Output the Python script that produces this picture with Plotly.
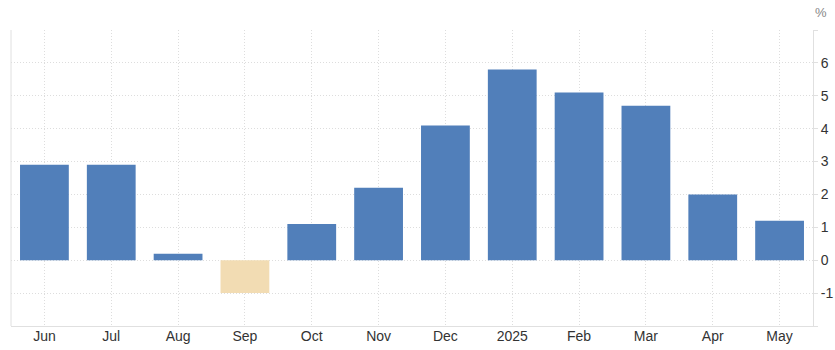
import plotly.graph_objects as go

categories = ["Jun", "Jul", "Aug", "Sep", "Oct", "Nov", "Dec", "2025", "Feb", "Mar", "Apr", "May"]
values = [2.9, 2.9, 0.2, -1.0, 1.1, 2.2, 4.1, 5.8, 5.1, 4.7, 2.0, 1.2]
y_ticks = [-2, -1, 0, 1, 2, 3, 4, 5, 6, 7]
y_labels = ["", "-1", "0", "1", "2", "3", "4", "5", "6", ""]

colors = ["#f2dcb3" if v < 0 else "#517fba" for v in values]

fig = go.Figure(go.Bar(x=categories, y=values, marker=dict(color=colors, line=dict(width=0)), width=0.73))

fig.update_layout(
    width=835, height=350,
    margin=dict(l=11, r=22, t=30, b=24, autoexpand=False),
    paper_bgcolor="white", plot_bgcolor="white",
    showlegend=False,
    font=dict(family="Liberation Sans, Arial, sans-serif", size=14, color="#333333"),
)
fig.update_xaxes(
    type="category", automargin=False,
    showgrid=True, gridcolor="#dddddd", griddash="1px,2px", gridwidth=1,
    showline=True, linecolor="#e0e0e0", linewidth=1,
    ticks="", tickfont=dict(size=14, color="#333333"),
    ticklabelstandoff=-3,
)
fig.update_yaxes(
    range=[-2, 7], side="right", automargin=False,
    tickvals=y_ticks, ticktext=y_labels,
    showgrid=True, gridcolor="#dddddd", griddash="1px,2px", gridwidth=1,
    showline=True, linecolor="#e0e0e0", linewidth=1,
    zeroline=False,
    ticks="outside", ticklen=4, tickcolor="#e0e0e0",
    tickfont=dict(size=14, color="#333333"),
)
fig.add_shape(type="line", xref="paper", yref="paper", x0=0, x1=0, y0=0, y1=1,
              line=dict(color="#e0e0e0", width=1))
fig.add_annotation(text="%", xref="paper", yref="paper", x=1.0, y=1.0, yshift=18,
                   xanchor="left", yanchor="middle", showarrow=False,
                   font=dict(size=13, color="#888888"))

fig.write_html("out.html")
